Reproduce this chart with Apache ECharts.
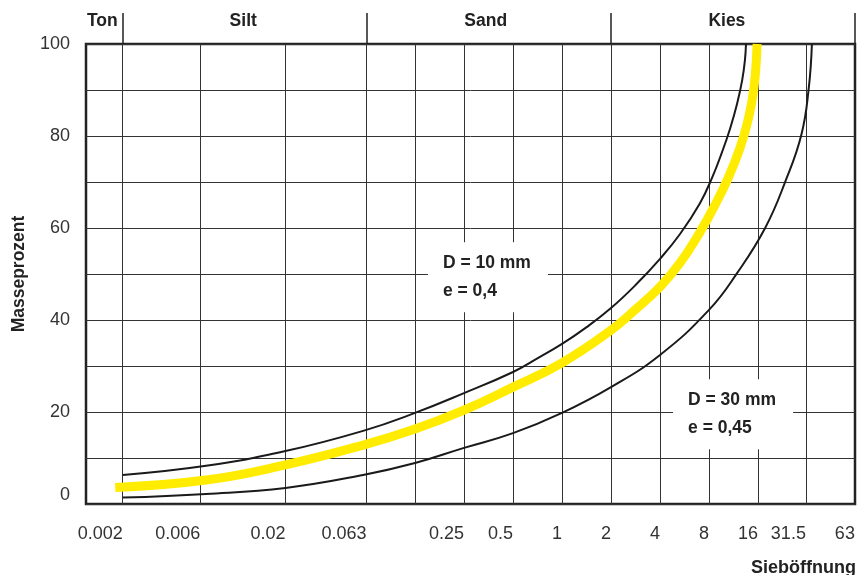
<!DOCTYPE html>
<html>
<head>
<meta charset="utf-8">
<script src="https://cdn.jsdelivr.net/npm/echarts@6/dist/echarts.min.js"></script>
<style>
  html, body { margin: 0; padding: 0; background: #fff; }
  #chart { width: 866px; height: 575px; }
</style>
</head>
<body>
<div id="chart"></div>
<script>
// x axis: sieve opening in mm (log scale)
const xLabelValues = [0.002, 0.006, 0.02, 0.063, 0.25, 0.5, 1, 2, 4, 8, 16, 31.5, 63];
const xLabelTexts = ['0.002', '0.006', '0.02', '0.063', '0.25', '0.5', '1', '2', '4', '8', '16', '31.5', '63'];
const xGridValues = [0.002, 0.006, 0.02, 0.063, 0.125, 0.25, 0.5, 1, 2, 4, 8, 16, 31.5];
const yLabelValues = [0, 20, 40, 60, 80, 100];

// soil classes along the top
const zoneNames = ['Ton', 'Silt', 'Sand', 'Kies'];
const zoneBounds = [0.002, 0.063, 2, 63];
const zoneCenters = [0.0015, 0.011, 0.34, 10.3];

// grading curves [mm, Masseprozent]
const upperCurve = [
    [0.002, 6.3], [0.0065, 8.3], [0.02, 11.5], [0.06, 15.9], [0.125, 19.8],
    [0.25, 24.1], [0.5, 28.7], [0.71, 31.7], [1, 34.8], [1.41, 38.4], [2, 42.6],
    [2.83, 47.6], [4, 53.3], [5.31, 58.7], [7.04, 65.4], [8.35, 70.9], [9.62, 76.5],
    [10.8, 81.7], [11.9, 87], [12.8, 92.2], [13.3, 96.5], [13.5, 100]
];
const middleCurve = [
    [0.0018, 3.6], [0.0065, 5.2], [0.02, 8.5], [0.06, 12.8], [0.125, 16.3],
    [0.25, 20.4], [0.5, 25.4], [1, 30.7], [2, 37.8], [2.81, 42.2], [4, 47.2],
    [5.31, 52.4], [7.04, 59.1], [8.71, 65], [10.5, 70.9], [12.4, 77.4],
    [13.9, 83.5], [15.1, 90.4], [15.8, 100]
];
const lowerCurve = [
    [0.002, 1.4], [0.0065, 2.2], [0.02, 3.5], [0.06, 6.3], [0.125, 8.9],
    [0.25, 12.2], [0.5, 15.4], [1, 19.8], [2, 25.4], [4, 32.4], [8, 42.2],
    [11.9, 50.2], [17.7, 60], [23.6, 70.2], [29.6, 80.4], [32.8, 90.4], [34.3, 100]
];

// annotation boxes (left edge, vertical middle)
const annoX = [0.15, 4.81];
const annoY = [49.3, 19.5];
const annoText = ['D = 10 mm\ne = 0,4', 'D = 30 mm\ne = 0,45'];

const FONT = '"Liberation Sans", Arial, sans-serif';
const X_MIN = 0.00119;
const X_MAX = 63.1;

const chart = echarts.init(document.getElementById('chart'));

const nearestLabel = (values, texts, v) => {
    let best = 0;
    values.forEach((x, i) => {
        if (Math.abs(Math.log(x / v)) < Math.abs(Math.log(values[best] / v))) best = i;
    });
    return texts[best];
};

const curveStyle = (data, color, width) => ({
    type: 'line',
    data: data,
    smooth: 0.45,
    symbol: 'none',
    silent: true,
    lineStyle: { color: color, width: width, cap: 'butt' },
    z: 3
});

const option = {
    animation: false,
    textStyle: { fontFamily: FONT },
    title: {
        text: 'Sieböffnung',
        right: 10,
        top: 559,
        padding: 0,
        textStyle: { fontFamily: FONT, fontSize: 18, fontWeight: 'bold', color: '#222' }
    },
    grid: {
        left: 86, right: 11, top: 44, bottom: 71,
        show: true,
        borderColor: '#222',
        borderWidth: 2.5
    },
    xAxis: [
        {
            type: 'log',
            min: X_MIN,
            max: X_MAX,
            position: 'bottom',
            axisLine: { show: false },
            axisTick: { show: false, customValues: xGridValues },
            splitLine: { show: true, lineStyle: { color: '#333', width: 1 } },
            axisLabel: {
                customValues: xLabelValues,
                formatter: v => nearestLabel(xLabelValues, xLabelTexts, v),
                align: 'right',
                margin: 21,
                fontSize: 18,
                color: '#333',
                fontFamily: FONT
            }
        },
        {
            type: 'log',
            min: X_MIN,
            max: X_MAX,
            position: 'top',
            axisLine: { show: false },
            axisTick: {
                show: true,
                inside: false,
                length: 31,
                customValues: zoneBounds,
                lineStyle: { color: '#222', width: 1.5 }
            },
            splitLine: { show: false },
            axisLabel: {
                customValues: zoneCenters,
                formatter: v => nearestLabel(zoneCenters, zoneNames, v),
                margin: 14,
                fontSize: 17.5,
                fontWeight: 'bold',
                color: '#222',
                fontFamily: FONT
            }
        }
    ],
    yAxis: {
        type: 'value',
        min: 0,
        max: 100,
        interval: 10,
        name: 'Masseprozent',
        nameLocation: 'middle',
        nameRotate: 90,
        nameGap: 58,
        nameTextStyle: { fontFamily: FONT, fontSize: 17.5, fontWeight: 'bold', color: '#222' },
        axisLine: { show: false },
        axisTick: { show: false },
        splitLine: { show: true, lineStyle: { color: '#333', width: 1 } },
        axisLabel: {
            customValues: yLabelValues,
            margin: 16,
            fontSize: 18,
            color: '#333',
            fontFamily: FONT,
            verticalAlignMinLabel: 'bottom'
        }
    },
    series: [
        curveStyle(upperCurve, '#1a1a1a', 2),
        curveStyle(lowerCurve, '#1a1a1a', 2),
        curveStyle(middleCurve, '#ffec00', 9),
        {
            type: 'scatter',
            silent: true,
            symbolSize: 1,
            itemStyle: { color: 'rgba(0,0,0,0)', opacity: 1 },
            data: annoX.map((x, i) => ({ value: [x, annoY[i]], name: annoText[i] })),
            label: {
                show: true,
                position: 'inside',
                align: 'left',
                verticalAlign: 'middle',
                formatter: p => p.name,
                backgroundColor: '#fff',
                padding: [7, 14, 6, 15],
                width: 91,
                lineHeight: 28.5,
                fontSize: 17.5,
                fontWeight: 'bold',
                color: '#222',
                fontFamily: FONT
            },
            z: 4
        }
    ]
};

chart.setOption(option);
window.addEventListener('resize', () => chart.resize());
</script>
</body>
</html>
